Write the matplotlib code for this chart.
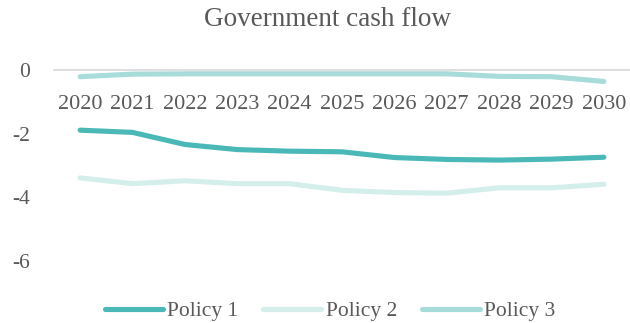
import matplotlib
matplotlib.use("Agg")
import matplotlib.pyplot as plt

years = [2020, 2021, 2022, 2023, 2024, 2025, 2026, 2027, 2028, 2029, 2030]
policy1 = [-1.89, -1.96, -2.34, -2.50, -2.55, -2.57, -2.75, -2.81, -2.83, -2.80, -2.74]
policy2 = [-3.39, -3.57, -3.48, -3.57, -3.57, -3.78, -3.85, -3.87, -3.70, -3.70, -3.59]
policy3 = [-0.21, -0.13, -0.12, -0.12, -0.12, -0.12, -0.12, -0.12, -0.20, -0.21, -0.36]
y_ticks = [0, -2, -4, -6]

series = [
    ("Policy 1", policy1, "#4bb8b8"),
    ("Policy 2", policy2, "#d4eeec"),
    ("Policy 3", policy3, "#a8dcdb"),
]

grey = "#595959"
plt.rcParams["font.family"] = ["Liberation Serif", "DejaVu Serif"]

fig = plt.figure(figsize=(6.3, 3.23), dpi=100)
ax = fig.add_axes([54 / 630, 1 - 261 / 323, 576 / 630, 191 / 323])

x = list(range(len(years)))
for name, vals, col in series:
    ax.plot(x, vals, color=col, lw=3.7, solid_capstyle="round",
            solid_joinstyle="round", label=name)

ax.set_xlim(-0.5, len(years) - 0.5)
ax.set_ylim(-6, 0)
ax.set_xticks(x)
ax.set_xticklabels([str(y) for y in years])
ax.set_yticks(y_ticks)
ax.set_yticklabels([str(v) for v in y_ticks])

# category axis sits on the zero line
for s in ["top", "right", "left"]:
    ax.spines[s].set_visible(False)
ax.spines["bottom"].set_position(("data", 0))
ax.spines["bottom"].set_color("#d9d9d9")
ax.spines["bottom"].set_linewidth(1.2)
ax.spines["bottom"].set_zorder(0)

ax.tick_params(axis="x", length=0, pad=18, labelsize=16, colors=grey)
ax.tick_params(axis="y", length=0, pad=17, labelsize=15.5, colors=grey)

fig.text(328 / 630, 1 - 20 / 323, "Government cash flow", ha="center",
         va="center", fontsize=19.5, color=grey)

fig.legend(loc="center", bbox_to_anchor=(330 / 630, 1 - 311 / 323), ncol=3,
           frameon=False, fontsize=15.5, handlelength=2.7, handletextpad=0.2,
           columnspacing=1.15, labelcolor=grey)

fig.savefig("out.png", dpi=100)
